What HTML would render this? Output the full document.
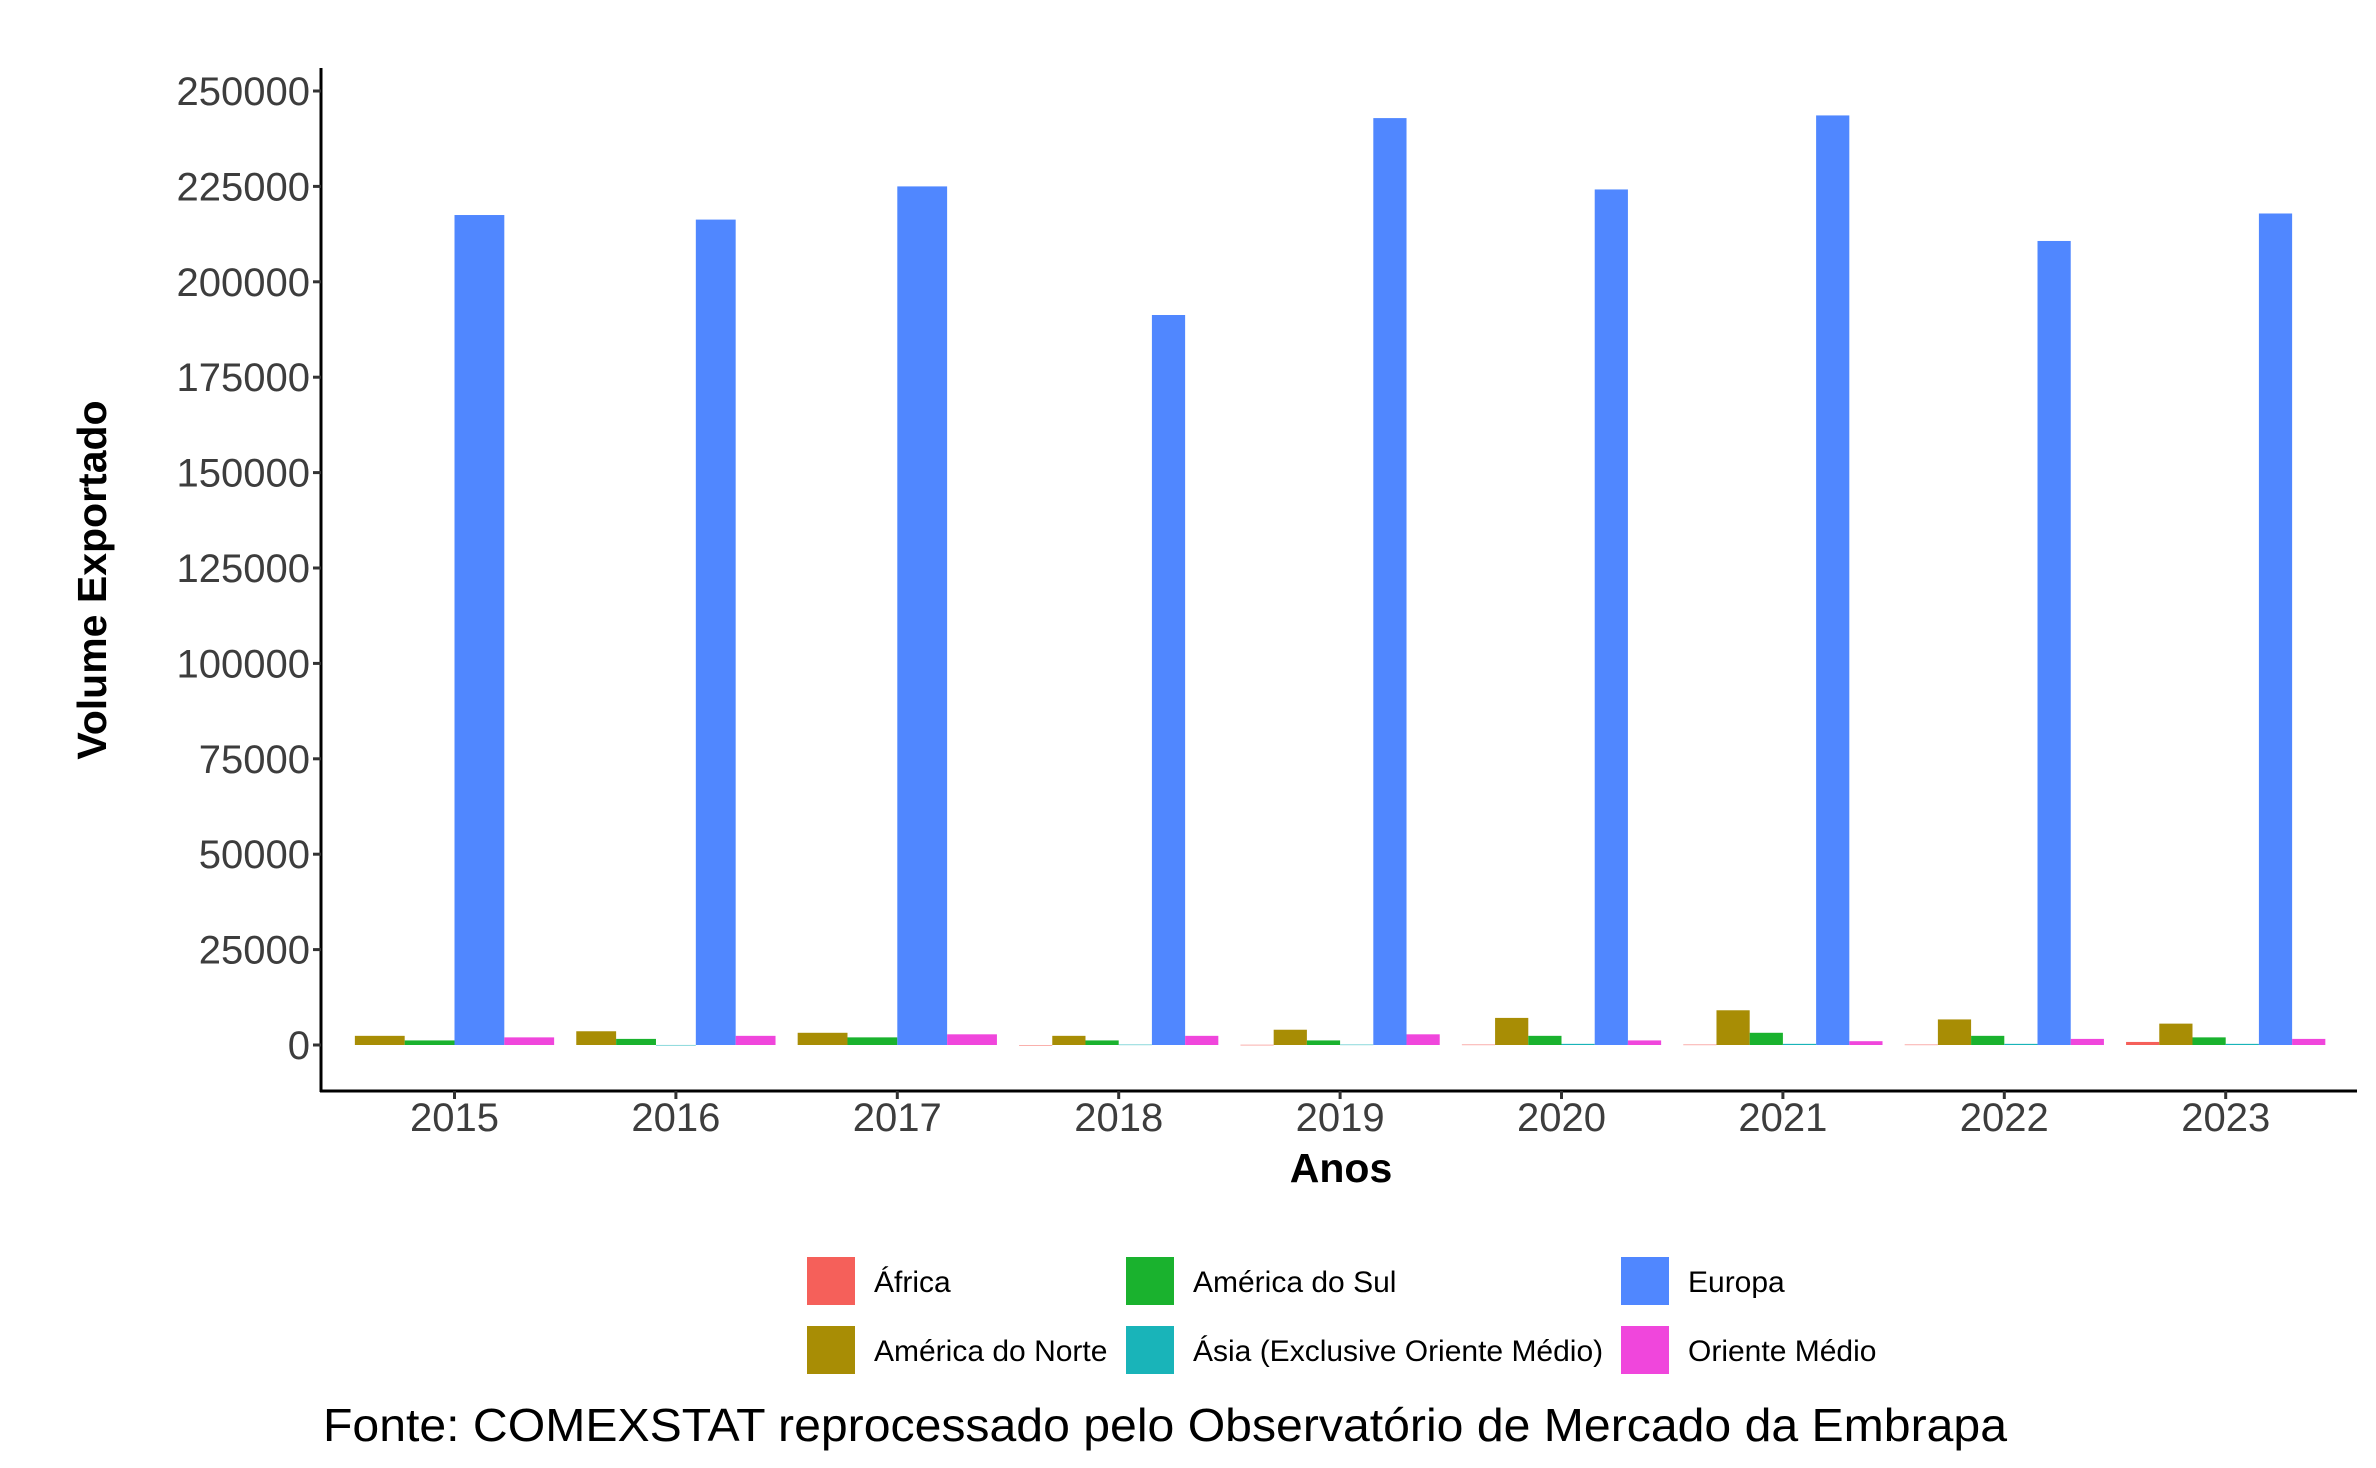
<!DOCTYPE html>
<html><head><meta charset="utf-8"><style>html,body{margin:0;padding:0;background:#fff}svg{display:block}</style></head>
<body>
<svg id="chart" width="2376" height="1468" viewBox="0 0 2376 1468" xmlns="http://www.w3.org/2000/svg" font-family="Liberation Sans, sans-serif">
<g id="bars"></g>
<g id="axes"></g>
<g id="legend"></g>
<text x="1341" y="1182" font-size="41" font-weight="bold" text-anchor="middle" fill="#000">Anos</text>
<text transform="translate(106,580) rotate(-90)" font-size="41" font-weight="bold" text-anchor="middle" fill="#000">Volume Exportado</text>
<text x="323" y="1441" font-size="46" textLength="1684" lengthAdjust="spacingAndGlyphs" fill="#000">Fonte: COMEXSTAT reprocessado pelo Observatório de Mercado da Embrapa</text>
</svg>
<script>
const years = ['2015','2016','2017','2018','2019','2020','2021','2022','2023'];
const seriesNames = ['África','América do Norte','América do Sul','Ásia (Exclusive Oriente Médio)','Europa','Oriente Médio'];
const colors = ['#F5605A','#A88D05','#1AB22E','#19B4B9','#5087FF','#F046DC'];
const africa   = [null, null, null, 0, 50, 100, 100, 100, 800];
const amNorte  = [2400, 3600, 3200, 2400, 4000, 7100, 9100, 6700, 5600];
const amSul    = [1200, 1600, 2000, 1200, 1200, 2400, 3200, 2400, 2000];
const asia     = [null, 10, null, 100, 100, 300, 300, 300, 300];
const europa   = [217500, 216300, 225000, 191300, 242900, 224200, 243600, 210700, 217900];
const oriente  = [2000, 2400, 2800, 2400, 2800, 1200, 1000, 1600, 1600];
const yTicks = [0, 25000, 50000, 75000, 100000, 125000, 150000, 175000, 200000, 225000, 250000];

const NS = 'http://www.w3.org/2000/svg';
const series = [africa, amNorte, amSul, asia, europa, oriente];
const x0 = 454.5, step = 221.4, groupW = 0.9 * step;
const xPos = i => x0 + i * step;
const yPos = v => 1045 - v * (954 / 250000);
function mk(tag, attrs, parent) {
  const e = document.createElementNS(NS, tag);
  for (const k in attrs) e.setAttribute(k, attrs[k]);
  parent.appendChild(e); return e;
}
const bars = document.getElementById('bars');
years.forEach((yr, i) => {
  const present = [];
  series.forEach((s, j) => { if (s[i] !== null) present.push(j); });
  const w = groupW / present.length;
  const left = xPos(i) - groupW / 2;
  present.forEach((j, k) => {
    const v = series[j][i];
    const r = mk('rect', {x: left + k * w, y: yPos(v), width: w, height: Math.max(yPos(0) - yPos(v), 0.5), fill: colors[j]}, bars);
    
    
  });
});
const axes = document.getElementById('axes');
const ya = mk('line', {x1: 321, y1: 68, x2: 321, y2: 1092, stroke: '#000', 'stroke-width': 3}, axes);


const xa = mk('line', {x1: 320, y1: 1091, x2: 2357, y2: 1091, stroke: '#000', 'stroke-width': 3}, axes);


yTicks.forEach(t => {
  const y = yPos(t);
  const tk = mk('line', {x1: 313, y1: y, x2: 321, y2: y, stroke: '#333', 'stroke-width': 3}, axes);
  
  
  const tx = mk('text', {x: 310, y: y + 14, 'font-size': 40, 'text-anchor': 'end', fill: '#3d3d3d'}, axes);
  tx.textContent = String(t);
  
  
});
years.forEach((yr, i) => {
  const x = xPos(i);
  const tk = mk('line', {x1: x, y1: 1091, x2: x, y2: 1099, stroke: '#333', 'stroke-width': 3}, axes);
  
  
  const tx = mk('text', {x: x, y: 1131, 'font-size': 40, 'text-anchor': 'middle', fill: '#3d3d3d'}, axes);
  tx.textContent = yr;
  
  
});
const legend = document.getElementById('legend');
const keyX = [807, 1126, 1621], rowY = [1257, 1326];
const order = [[0,0,0],[1,0,1],[2,1,0],[3,1,1],[4,2,0],[5,2,1]];
order.forEach(([j, c, r]) => {
  const k = mk('rect', {x: keyX[c], y: rowY[r], width: 48, height: 48, fill: colors[j]}, legend);
  
  
  const t = mk('text', {x: keyX[c] + 67, y: rowY[r] + 35, 'font-size': 30, fill: '#000'}, legend);
  t.textContent = seriesNames[j];
  
  
});
</script>
</body></html>
